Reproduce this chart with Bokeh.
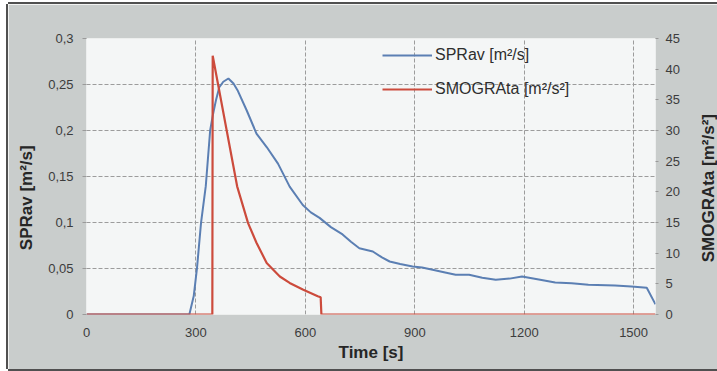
import math
from bokeh.plotting import figure
from bokeh.models import (Range1d, LinearAxis, FixedTicker, CustomJSTickFormatter,
                          Legend, LegendItem, Label)
from bokeh.embed import file_html
from bokeh.resources import INLINE

# ---- data ----
spr_t = [0, 282, 294, 303, 314, 327, 339, 347, 355, 364, 375, 389, 403, 414,
         439, 466, 494, 525, 557, 593, 615, 639, 670, 702, 725, 748, 785, 810,
         831, 860, 894, 920, 949, 980, 1012, 1049, 1085, 1122, 1160, 1194, 1240,
         1285, 1330, 1376, 1449, 1494, 1536, 1560]
spr_v = [0, 0, 0.02, 0.0507, 0.0996, 0.1395, 0.2, 0.218, 0.233, 0.247, 0.253,
         0.2565, 0.251, 0.2438, 0.222, 0.1967, 0.182, 0.164, 0.139, 0.119, 0.111,
         0.105, 0.095, 0.087, 0.079, 0.072, 0.0685, 0.062, 0.0576, 0.055, 0.0522,
         0.051, 0.0486, 0.046, 0.0431, 0.0431, 0.040, 0.0377, 0.039, 0.0413,
         0.038, 0.0348, 0.034, 0.0323, 0.0315, 0.0304, 0.029, 0.011]

smog_t = [0, 345, 346, 413, 443, 466, 494, 530, 557, 593, 634, 642, 644, 1560]
smog_v = [0, 0, 42.2, 20.9, 14.9, 11.7, 8.4, 6.2, 5.15, 4.07, 2.98, 2.8, 0, 0]

x_ticks = [0, 300, 600, 900, 1200, 1500]
left_ticks = [0, 0.05, 0.1, 0.15, 0.2, 0.25, 0.3]
right_ticks = [0, 5, 10, 15, 20, 25, 30, 35, 40, 45]

labels = ["SPRav [m²/s]", "SMOGRAta [m²/s²]"]
x_title = "Time [s]"
y_left_title = "SPRav [m²/s]"
y_right_title = "SMOGRAta [m²/s²]"

BLUE = "#5b7fb3"
RED = "#cc4b3c"
FONT = "Liberation Sans"
TXT = "#3c3c3c"

p = figure(width=709, height=365, output_backend="svg", toolbar_location=None,
           x_range=Range1d(0, 1560), y_range=Range1d(0, 0.3),
           min_border_left=78, min_border_right=62, min_border_top=34,
           min_border_bottom=55)
p.margin = (4, 0, 0, 8)
p.styles = {"box-shadow": "-2px 0 0 0 #505050, 0 -2px 0 0 #505050, 0 2px 0 0 #505050"}
p.border_fill_color = "#c9cdcc"
p.background_fill_color = "#f4f6f6"
p.outline_line_color = None

p.extra_y_ranges = {"right": Range1d(0, 45)}

r_blue = p.line(spr_t, spr_v, line_color=BLUE, line_width=2)
r_red = p.line(smog_t, smog_v, line_color=RED, line_width=2.2, y_range_name="right")

# axes
xa = p.xaxis[0]
xa.ticker = FixedTicker(ticks=x_ticks)
xa.axis_label = x_title
ya = p.yaxis[0]
ya.ticker = FixedTicker(ticks=left_ticks)
ya.formatter = CustomJSTickFormatter(code="""
let s = tick.toFixed(2);
s = s.replace(/0+$/, '').replace(/\\.$/, '');
return s.replace('.', ',');
""")
ya.axis_label = y_left_title + "\u00a0" * 9

ra = LinearAxis(y_range_name="right", ticker=FixedTicker(ticks=right_ticks))
p.add_layout(ra, "right")

for ax in (xa, ya, ra):
    ax.axis_line_color = None
    ax.major_tick_in = 0
    ax.minor_tick_line_color = None
    ax.major_label_text_font = FONT
    ax.major_label_text_font_size = "13px"
    ax.major_label_text_color = TXT
    ax.axis_label_text_font = FONT
    ax.axis_label_text_font_size = "17px"
    ax.axis_label_text_font_style = "bold"
    ax.axis_label_text_color = "#262626"

xa.major_tick_line_color = None
xa.major_label_standoff = 7
xa.axis_label_standoff = 3

ya.major_tick_out = 4
ya.major_tick_line_color = "#9a9a9a"
ya.major_label_standoff = 9
ya.axis_label_standoff = 9

ra.major_tick_out = 3
ra.major_tick_line_color = "#9a9a9a"
ra.major_label_standoff = 7

# right-hand axis title, reading upwards like the reference
right_title = Label(x=1706, y=20.6, y_range_name="right",
                    text=y_right_title, angle=math.pi / 2,
                    text_align="center", text_baseline="middle",
                    text_font=FONT, text_font_size="17px",
                    text_font_style="bold", text_color="#262626")
p.add_layout(right_title, "right")

# grid
p.xgrid.ticker = FixedTicker(ticks=x_ticks)
p.ygrid.ticker = FixedTicker(ticks=left_ticks)
for g in (p.xgrid[0], p.ygrid[0]):
    g.grid_line_color = "#9c9c9c"
    g.grid_line_dash = "4 2"
    g.grid_line_width = 1

legend = Legend(items=[LegendItem(label=labels[0], renderers=[r_blue]),
                       LegendItem(label=labels[1], renderers=[r_red])],
                location=(296, 215))
legend.background_fill_alpha = 0
legend.border_line_color = None
legend.padding = 0
legend.margin = 0
legend.spacing = 14
legend.glyph_width = 50
legend.glyph_height = 20
legend.label_height = 20
legend.label_standoff = 3
legend.label_text_font = FONT
legend.label_text_font_size = "16px"
legend.label_text_color = "#2e2e2e"
p.add_layout(legend)

open("out.html", "w").write(file_html(p, INLINE))
